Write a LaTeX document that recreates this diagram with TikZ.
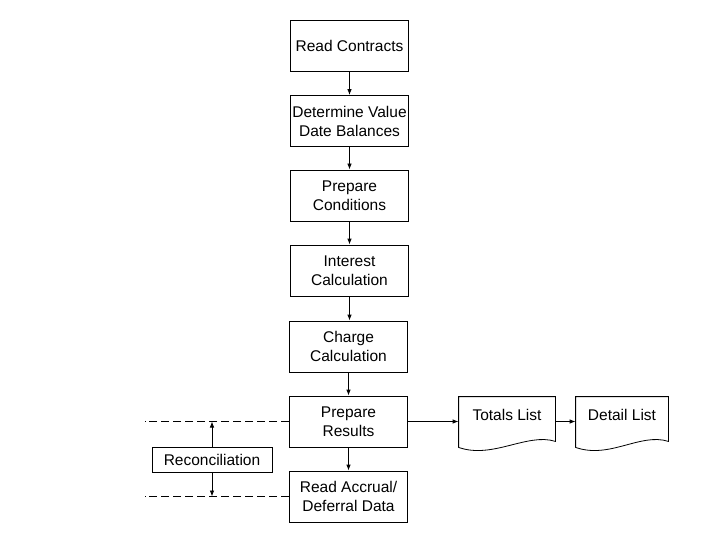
\documentclass[tikz,border=0pt]{standalone}
\usepackage{fontspec}
\setmainfont{Liberation Sans}
\usetikzlibrary{arrows.meta,calc}

\begin{document}
\begin{tikzpicture}[x=1pt,y=-1pt,
font=\fontsize{15.5}{19}\selectfont,
line width=0.8pt,
proc/.style={draw, minimum width=118pt, minimum height=51pt, align=center, inner sep=0pt},
side/.style={draw, minimum width=120pt, minimum height=25pt, inner sep=0pt},
doc/.style={minimum height=36pt, align=center, inner sep=0pt},
flow/.style={-{Latex[length=6pt,width=4.5pt]}},
cut/.style={dash pattern=on 8pt off 4pt}]
\useasboundingbox (0,0) rectangle (720,540);
% main chain
\node[proc] (read) at (349.5,45.5) {Read Contracts};
\node[proc] (value) at (349.5,121) {Determine Value\\Date Balances};
\node[proc] (cond) at (349.5,195.5) {Prepare\\Conditions};
\node[proc] (interest) at (349.5,270.5) {Interest\\Calculation};
\node[proc] (charge) at (348.5,346.5) {Charge\\Calculation};
\node[proc] (results) at (348.5,421.5) {Prepare\\Results};
\node[proc] (accrual) at (348.5,496.5) {Read Accrual/\\Deferral Data};
\foreach \a/\b in {read/value,value/cond,cond/interest,interest/charge,charge/results,results/accrual}
  \draw[flow] (\a.south) -- (\a.south |- \b.north);
% lists
\node[doc, minimum width=96pt] (totals) at (507,415) {Totals List};
\node[doc, minimum width=92pt] (detail) at (622,415) {Detail List};
\foreach \d in {totals,detail}
  \draw (\d.north west) -- (\d.north east) -- ($(\d.south east)+(0,8)$)
    .. controls ($(\d.south east)+(-28,-1)$) and ($(\d.south west)+(34,26)$) .. ($(\d.south west)+(0,14)$)
    -- cycle;
\draw[flow] (results.east) -- (results.east -| totals.west);
\draw[flow] (totals.east |- results.east) -- (results.east -| detail.west);
% reconciliation
\node[side] (recon) at (212,459.5) {Reconciliation};
\coordinate (edge) at (145,0);
\draw[cut] (results.west) -- (results.west -| edge);
\draw[cut] (accrual.west) -- (accrual.west -| edge);
\draw[flow] (recon.north) -- (recon.north |- results.west);
\draw[flow] (recon.south) -- (recon.south |- accrual.west);
\end{tikzpicture}
\end{document}
